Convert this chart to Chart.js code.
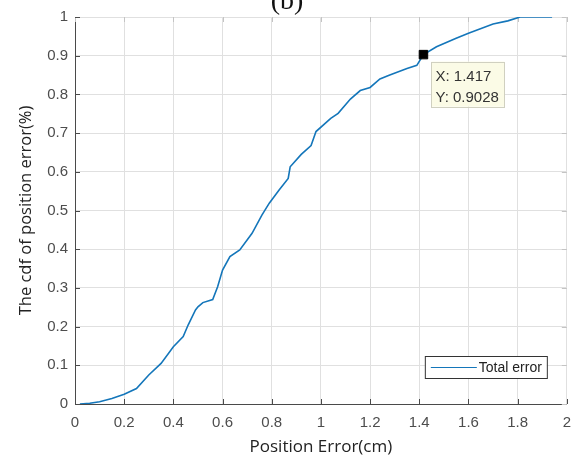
<!DOCTYPE html>
<html>
<head>
<meta charset="utf-8">
<script src="https://cdn.jsdelivr.net/npm/chart.js@4.4.1/dist/chart.umd.min.js"></script>
<style>
  html, body { margin: 0; padding: 0; background: #fff; }
</style>
</head>
<body>
<canvas id="cdf" width="574" height="457"></canvas>
<script>
// values
const errorCm = [0.02, 0.06, 0.1, 0.15, 0.2, 0.25, 0.3, 0.35, 0.4, 0.44, 0.46, 0.49, 0.5, 0.52,
  0.56, 0.58, 0.6, 0.63, 0.67, 0.72, 0.76, 0.79, 0.83, 0.867, 0.875, 0.92, 0.96, 0.98, 1.04,
  1.07, 1.12, 1.16, 1.2, 1.24, 1.28, 1.35, 1.39, 1.417, 1.47, 1.55, 1.6, 1.7, 1.76, 1.81, 1.94];
const cdfValue = [0, 0.002, 0.006, 0.014, 0.025, 0.04, 0.075, 0.105, 0.148, 0.174, 0.204, 0.243, 0.251, 0.262,
  0.27, 0.303, 0.346, 0.381, 0.398, 0.441, 0.488, 0.519, 0.553, 0.583, 0.613, 0.645, 0.668, 0.704, 0.738,
  0.751, 0.788, 0.81, 0.818, 0.84, 0.85, 0.867, 0.875, 0.9028, 0.923, 0.945, 0.958, 0.982, 0.99, 1.0, 1.0];
const xTicks = [0, 0.2, 0.4, 0.6, 0.8, 1, 1.2, 1.4, 1.6, 1.8, 2];
const yTicks = [0, 0.1, 0.2, 0.3, 0.4, 0.5, 0.6, 0.7, 0.8, 0.9, 1];
const tipX = 1.417;
const tipY = 0.9028;
const seriesName = 'Total error';
const panelLabel = '(b)';

const lineBlue = 'rgb(20,118,186)';
const tickFont = { family: 'Liberation Sans', size: 15 };

// inward ticks, legend box, data tip and panel label
const matlabBits = {
  id: 'matlabBits',
  beforeDatasetsDraw(chart) {
    const { ctx, chartArea: a, scales: { x, y } } = chart;
    ctx.save();
    ctx.lineWidth = 1;
    x.ticks.forEach(t => {
      const px = Math.round(x.getPixelForValue(t.value)) + 0.5;
      ctx.strokeStyle = '#4a4a4a';
      ctx.beginPath(); ctx.moveTo(px, a.bottom); ctx.lineTo(px, a.bottom - 5); ctx.stroke();
      ctx.strokeStyle = '#c4c4c4';
      ctx.beginPath(); ctx.moveTo(px, a.top); ctx.lineTo(px, a.top + 5); ctx.stroke();
    });
    y.ticks.forEach(t => {
      const py = Math.round(y.getPixelForValue(t.value)) + 0.5;
      ctx.strokeStyle = '#4a4a4a';
      ctx.beginPath(); ctx.moveTo(a.left, py); ctx.lineTo(a.left + 5, py); ctx.stroke();
      ctx.strokeStyle = '#c4c4c4';
      ctx.beginPath(); ctx.moveTo(a.right, py); ctx.lineTo(a.right - 5, py); ctx.stroke();
    });
    ctx.restore();
  },
  afterDraw(chart) {
    const { ctx, chartArea: a, scales: { x, y } } = chart;
    ctx.save();

    // legend
    const lx = a.right - 142, ly = a.bottom - 48;
    ctx.fillStyle = '#fff';
    ctx.fillRect(lx, ly, 122, 22);
    ctx.strokeStyle = '#333';
    ctx.lineWidth = 1;
    ctx.strokeRect(lx + 0.5, ly + 0.5, 122, 22);
    ctx.strokeStyle = lineBlue;
    ctx.lineWidth = 1.2;
    ctx.beginPath(); ctx.moveTo(lx + 6, ly + 11.5); ctx.lineTo(lx + 52, ly + 11.5); ctx.stroke();
    ctx.fillStyle = '#222';
    ctx.font = '14px "Liberation Sans"';
    ctx.textBaseline = 'middle';
    ctx.fillText(seriesName, lx + 54, ly + 12);

    // data tip
    const mx = x.getPixelForValue(tipX), my = y.getPixelForValue(tipY);
    const bx = mx + 8, by = my + 7;
    ctx.fillStyle = '#fbfbe6';
    ctx.fillRect(bx, by, 73, 45);
    ctx.strokeStyle = '#d0d0c0';
    ctx.lineWidth = 1;
    ctx.strokeRect(Math.round(bx) + 0.5, Math.round(by) + 0.5, 73, 45);
    ctx.fillStyle = '#333';
    ctx.font = '15px "Liberation Sans"';
    ctx.textAlign = 'left';
    ctx.fillText('X: ' + tipX, bx + 4, by + 15);
    ctx.fillText('Y: ' + tipY, bx + 4, by + 36);

    // panel label, cut at the top like the source figure
    ctx.fillStyle = '#111';
    ctx.font = '28px "Liberation Serif"';
    ctx.textAlign = 'center';
    ctx.textBaseline = 'alphabetic';
    ctx.fillText(panelLabel, 287, 9);
    ctx.restore();
  }
};

new Chart(document.getElementById('cdf'), {
  type: 'line',
  data: {
    datasets: [
      {
        label: seriesName,
        data: errorCm.map((v, i) => ({ x: v, y: cdfValue[i] })),
        borderColor: lineBlue,
        borderWidth: 1.6,
        pointRadius: 0,
        tension: 0,
        order: 2
      },
      {
        label: 'tip',
        type: 'scatter',
        data: [{ x: tipX, y: tipY }],
        pointStyle: 'rect',
        pointRadius: 6,
        backgroundColor: '#000',
        borderColor: '#000',
        order: 1
      }
    ]
  },
  options: {
    responsive: false,
    devicePixelRatio: 1,
    animation: false,
    layout: { padding: { left: 0, right: 7, top: 17, bottom: 0 } },
    plugins: { legend: { display: false }, tooltip: { enabled: false } },
    scales: {
      x: {
        type: 'linear',
        min: 0,
        max: 2,
        afterFit: s => { s.height = 53; },
        afterBuildTicks: s => { s.ticks = xTicks.map(v => ({ value: v })); },
        ticks: { color: '#4d4d4d', font: tickFont, padding: 3, maxRotation: 0, callback: v => String(v) },
        grid: { color: '#e0e0e0', drawTicks: true, tickLength: 7, tickColor: 'rgba(0,0,0,0)' },
        border: { color: '#4a4a4a' },
        title: { display: true, text: 'Position Error(cm)', color: '#222',
          font: { family: 'Open Sans', size: 17 }, padding: { top: 0, bottom: 0 } }
      },
      y: {
        type: 'linear',
        min: 0,
        max: 1,
        afterFit: s => { s.width = 75; },
        afterBuildTicks: s => { s.ticks = yTicks.map(v => ({ value: v })); },
        ticks: { color: '#4d4d4d', font: tickFont, padding: 7, callback: v => String(v) },
        grid: { color: '#e0e0e0', drawTicks: false },
        border: { color: '#4a4a4a' },
        title: { display: true, text: 'The cdf of position error(%)', color: '#222',
          font: { family: 'Open Sans', size: 16.5 }, padding: { top: 16, bottom: 0 } }
      }
    }
  },
  plugins: [matlabBits]
});
</script>
</body>
</html>
